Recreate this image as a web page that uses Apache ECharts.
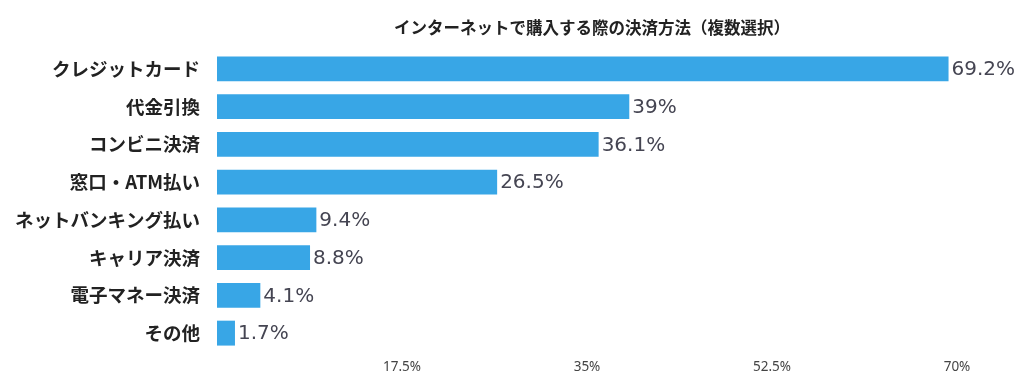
<!DOCTYPE html>
<html><head><meta charset="utf-8">
<script src="https://cdn.jsdelivr.net/npm/echarts@6/dist/echarts.min.js"></script>
<style>html,body{margin:0;padding:0;background:#fff}#c{width:1024px;height:385px}</style>
</head><body><div id="c"></div>
<script>
const categories = ["クレジットカード","代金引換","コンビニ決済","窓口・ATM払い","ネットバンキング払い","キャリア決済","電子マネー決済","その他"];
const values = [69.2, 39, 36.1, 26.5, 9.4, 8.8, 4.1, 1.7];
const valueLabels = ["69.2%","39%","36.1%","26.5%","9.4%","8.8%","4.1%","1.7%"];
const titleText = "インターネットで購入する際の決済方法（複数選択）";
const chart = echarts.init(document.getElementById('c'));
chart.setOption({
  animation:false,
  title:{text:titleText,left:587,textAlign:'center',top:14,textStyle:{fontFamily:'Noto Sans CJK JP',fontSize:16.5,fontWeight:'bold',color:'#222'}},
  grid:{left:217,right:67,top:50,bottom:33},
  xAxis:{type:'value',min:0,max:70,interval:17.5,
    axisLine:{show:false},axisTick:{show:false},splitLine:{show:false},
    axisLabel:{margin:8,fontFamily:'Noto Sans',fontSize:13.5,color:'#444',formatter:v=>v===0?'':v+'%'}},
  yAxis:{type:'category',inverse:true,data:categories,
    axisLabel:{margin:17,fontFamily:'Noto Sans CJK JP',fontSize:18.5,fontWeight:'bold',color:'#222'},
    axisLine:{show:false},axisTick:{show:false}},
  series:[{type:'bar',data:values,barCategoryGap:'34%',itemStyle:{color:'#38a6e6'},
    label:{show:true,position:'right',distance:3,offset:[0,1],fontFamily:'DejaVu Sans',fontSize:20,color:'#454552',
      formatter:p=>valueLabels[p.dataIndex]}}]
});
</script></body></html>
